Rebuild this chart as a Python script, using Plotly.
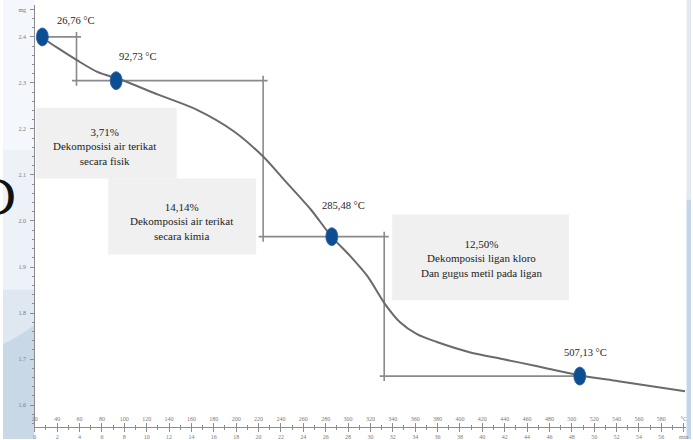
import plotly.graph_objects as go

W, H = 693, 440

# Thermogravimetric curve: temperature (°C) vs. sample mass (mg)
curve_temp = [24.4, 40.4, 57.3, 75.9, 97.2, 130.9, 164.6, 198.4, 224.1, 242.7,
              266.7, 285.3, 302.2, 317.3, 333.2, 346.5, 361.6, 379.4, 408.6,
              437.9, 468.1, 506.3, 541.7, 601.2]
curve_mass = [2.402, 2.376, 2.350, 2.324, 2.307, 2.274, 2.242, 2.194, 2.140, 2.090,
              2.025, 1.966, 1.923, 1.880, 1.819, 1.780, 1.754, 1.737, 1.715,
              1.700, 1.685, 1.665, 1.652, 1.630]

# Marked temperatures on the curve
point_temp = [26.76, 92.73, 285.48, 507.13]
point_mass = [2.400, 2.305, 1.966, 1.663]
point_label = ["26,76 °C", "92,73 °C", "285,48 °C", "507,13 °C"]

# Temperatures of the vertical step lines between mass plateaus
step_temp = [57.3, 224.1, 332.3]

# Decomposition stages
stage_text = [
    "3,71%<br>Dekomposisi air terikat<br>secara fisik",
    "14,14%<br>Dekomposisi air terikat<br>secara kimia",
    "12,50%<br>Dekomposisi ligan kloro<br>Dan gugus metil pada ligan",
]

# Axis ticks
temp_tick_vals = [20, 40, 60, 80, 100, 120, 140, 160, 180, 200, 220, 240, 260, 280,
                  300, 320, 340, 360, 380, 400, 420, 440, 460, 480, 500, 520, 540,
                  560, 580, 600]
temp_tick_text = ["20", "40", "60", "80", "100", "120", "140", "160", "180", "200",
                  "220", "240", "260", "280", "300", "320", "340", "360", "380",
                  "400", "420", "440", "460", "480", "500", "520", "540", "560",
                  "580", "°C"]
time_tick_vals = [0, 2, 4, 6, 8, 10, 12, 14, 16, 18, 20, 22, 24, 26, 28, 30, 32, 34,
                  36, 38, 40, 42, 44, 46, 48, 50, 52, 54, 56, 58]
time_tick_text = ["0", "2", "4", "6", "8", "10", "12", "14", "16", "18", "20", "22",
                  "24", "26", "28", "30", "32", "34", "36", "38", "40", "42", "44",
                  "46", "48", "50", "52", "54", "56", "min"]
mass_tick_vals = [1.6, 1.7, 1.8, 1.9, 2.0, 2.1, 2.2, 2.3, 2.4, 2.4585]
mass_tick_text = ["1.6", "1.7", "1.8", "1.9", "2.0", "2.1", "2.2", "2.3", "2.4", "mg"]


def px(x):
    return x / W


def py(y):
    return 1 - y / H


# plot frame (pixels) and the matching data ranges
X_LEFT, X_RIGHT = 31.5, 688.0
Y_TOP, Y_BOTTOM = 5.0, 428.0
PX_PER_DEG = 1.127
PX_PER_MG = 461.25
t_min = 20 - (32 - X_LEFT) / PX_PER_DEG
t_max = 20 + (X_RIGHT - 32) / PX_PER_DEG
m_max = 2.4 + (37 - Y_TOP) / PX_PER_MG
m_min = 2.4 - (Y_BOTTOM - 37) / PX_PER_MG

LINE_GREY = "#8a8a8a"
CURVE_GREY = "#6a6a6a"
AXIS_GREY = "#8c8c8c"
DOT_BLUE = "#0d4d91"
SERIF = "Liberation Serif"

fig = go.Figure()

# step construction lines between plateaus
o_t = 4.5 / PX_PER_DEG
o_m = 5.0 / PX_PER_MG
for i, st in enumerate(step_temp):
    fig.add_trace(go.Scatter(
        x=[st, st], y=[point_mass[i] + o_m, point_mass[i + 1] - o_m],
        mode="lines", line=dict(color=LINE_GREY, width=1.6),
        hoverinfo="skip", showlegend=False))
h_starts = [point_temp[0]] + [s - o_t for s in step_temp]
h_ends = [s + o_t for s in step_temp] + [point_temp[-1]]
for m, a, b in zip(point_mass, h_starts, h_ends):
    fig.add_trace(go.Scatter(
        x=[a, b], y=[m, m], mode="lines",
        line=dict(color=LINE_GREY, width=1.6),
        hoverinfo="skip", showlegend=False))

# mass-loss curve
fig.add_trace(go.Scatter(
    x=curve_temp, y=curve_mass, mode="lines",
    line=dict(color=CURVE_GREY, width=2, shape="spline", smoothing=0.8),
    hoverinfo="skip", showlegend=False))

# carrier for the time axis
fig.add_trace(go.Scatter(
    x=time_tick_vals[:1], y=point_mass[:1], xaxis="x2", mode="markers",
    marker=dict(opacity=0), hoverinfo="skip", showlegend=False))

shapes = []

# slide background at the left and right edges
shapes += [
    dict(type="rect", xref="paper", yref="paper", x0=0, x1=px(X_LEFT), y0=py(0), y1=py(150),
         fillcolor="#f4f7fb", line=dict(width=0), layer="below"),
    dict(type="rect", xref="paper", yref="paper", x0=0, x1=px(X_LEFT), y0=py(150), y1=py(290),
         fillcolor="#edf2f8", line=dict(width=0), layer="below"),
    dict(type="rect", xref="paper", yref="paper", x0=0, x1=px(X_LEFT), y0=py(290), y1=py(440),
         fillcolor="#dfe8f1", line=dict(width=0), layer="below"),
    dict(type="path", xref="paper", yref="paper",
         path=(f"M 0 {py(345)} Q {px(15)} {py(338)} {px(X_LEFT)} {py(326)} "
               f"L {px(X_LEFT)} {py(440)} L 0 {py(440)} Z"),
         fillcolor="#c9d8e7", line=dict(width=0), layer="below"),
    dict(type="rect", xref="paper", yref="paper", x0=px(688.5), x1=1, y0=py(0), y1=py(200),
         fillcolor="#e2e9f1", line=dict(width=0), layer="below"),
    dict(type="rect", xref="paper", yref="paper", x0=px(688.5), x1=1, y0=py(200), y1=py(440),
         fillcolor="#c3d5ea", line=dict(width=0), layer="below"),
]

# grey stage boxes
boxes = [(33, 175, 108, 179), (106, 255, 179, 255), (392, 570, 215, 301)]
for x0, x1, y0, y1 in boxes:
    shapes.append(dict(type="rect", xref="paper", yref="paper",
                       x0=px(x0), x1=px(x1), y0=py(y1), y1=py(y0),
                       fillcolor="#f0f0f0", line=dict(width=0), layer="below"))

# blue markers (elliptic) at the marked temperatures
for t, m in zip(point_temp, point_mass):
    shapes.append(dict(type="circle", xref="x", yref="y",
                       xsizemode="pixel", ysizemode="pixel",
                       xanchor=t, yanchor=m, x0=-6, x1=6, y0=-9, y1=9,
                       fillcolor=DOT_BLUE, line=dict(color="#2a62a3", width=0.8),
                       layer="above"))

annotations = []

# temperature labels above the markers
label_shift = [(33, 16), (21, 24), (12, 31), (6, 24)]
for t, m, txt, (dx, dy) in zip(point_temp, point_mass, point_label, label_shift):
    annotations.append(dict(x=t, y=m, xref="x", yref="y", text=txt, showarrow=False,
                            xanchor="center", yanchor="middle",
                            xshift=dx, yshift=dy,
                            font=dict(family=SERIF, size=10.5, color="#1e1e1e")))

# stage descriptions
text_pos = [(102, 146.5), (180, 222), (482, 259.5)]
for txt, (tx, ty) in zip(stage_text, text_pos):
    annotations.append(dict(x=px(tx), y=py(ty), xref="paper", yref="paper", text=txt,
                            showarrow=False, align="center",
                            xanchor="center", yanchor="middle",
                            font=dict(family=SERIF, size=11, color="#222222")))

# large letter at the slide edge
annotations.append(dict(x=px(15), y=py(198), xref="paper", yref="paper", text="D",
                        showarrow=False, xanchor="right", yanchor="middle",
                        font=dict(family="DejaVu Serif", size=48, color="#111111")))

tick_font = dict(family=SERIF, size=6, color="#7a7a7a")

fig.update_layout(
    width=W, height=H,
    margin=dict(l=0, r=0, t=0, b=0),
    paper_bgcolor="white", plot_bgcolor="white",
    showlegend=False,
    shapes=shapes, annotations=annotations,
    xaxis=dict(
        domain=[px(X_LEFT), px(X_RIGHT)], range=[t_min, t_max],
        anchor="free", position=py(Y_BOTTOM), side="top",
        tickmode="array", tickvals=temp_tick_vals, ticktext=temp_tick_text,
        ticks="outside", ticklen=4, tickwidth=1, tickcolor=AXIS_GREY,
        minor=dict(tickmode="linear", tick0=10, dtick=20, ticks="outside",
                   ticklen=2, tickcolor=AXIS_GREY),
        showline=True, linecolor=AXIS_GREY, linewidth=1,
        showgrid=False, zeroline=False, tickfont=tick_font, fixedrange=True,
    ),
    xaxis2=dict(
        domain=[px(X_LEFT), px(X_RIGHT)],
        range=[(t_min - 20) / 10, (t_max - 20) / 10],
        overlaying="x", anchor="free", position=py(Y_BOTTOM), side="bottom",
        tickmode="array", tickvals=time_tick_vals, ticktext=time_tick_text,
        ticks="outside", ticklen=4, tickwidth=1, tickcolor=AXIS_GREY,
        minor=dict(tickmode="linear", tick0=1, dtick=2, ticks="outside",
                   ticklen=2, tickcolor=AXIS_GREY),
        showline=False, showgrid=False, zeroline=False,
        tickfont=tick_font, fixedrange=True,
    ),
    yaxis=dict(
        domain=[py(Y_BOTTOM), py(Y_TOP)], range=[m_min, m_max],
        anchor="free", position=px(X_LEFT), side="left",
        tickmode="array", tickvals=mass_tick_vals, ticktext=mass_tick_text,
        ticks="outside", ticklen=4, tickwidth=1, tickcolor=AXIS_GREY,
        minor=dict(tickmode="linear", tick0=1.6, dtick=0.02, ticks="outside",
                   ticklen=2, tickcolor=AXIS_GREY),
        showline=True, linecolor=AXIS_GREY, linewidth=1,
        showgrid=False, zeroline=False, tickfont=tick_font, fixedrange=True,
        ticklabelstandoff=3,
    ),
)

fig.write_html("out.html")
